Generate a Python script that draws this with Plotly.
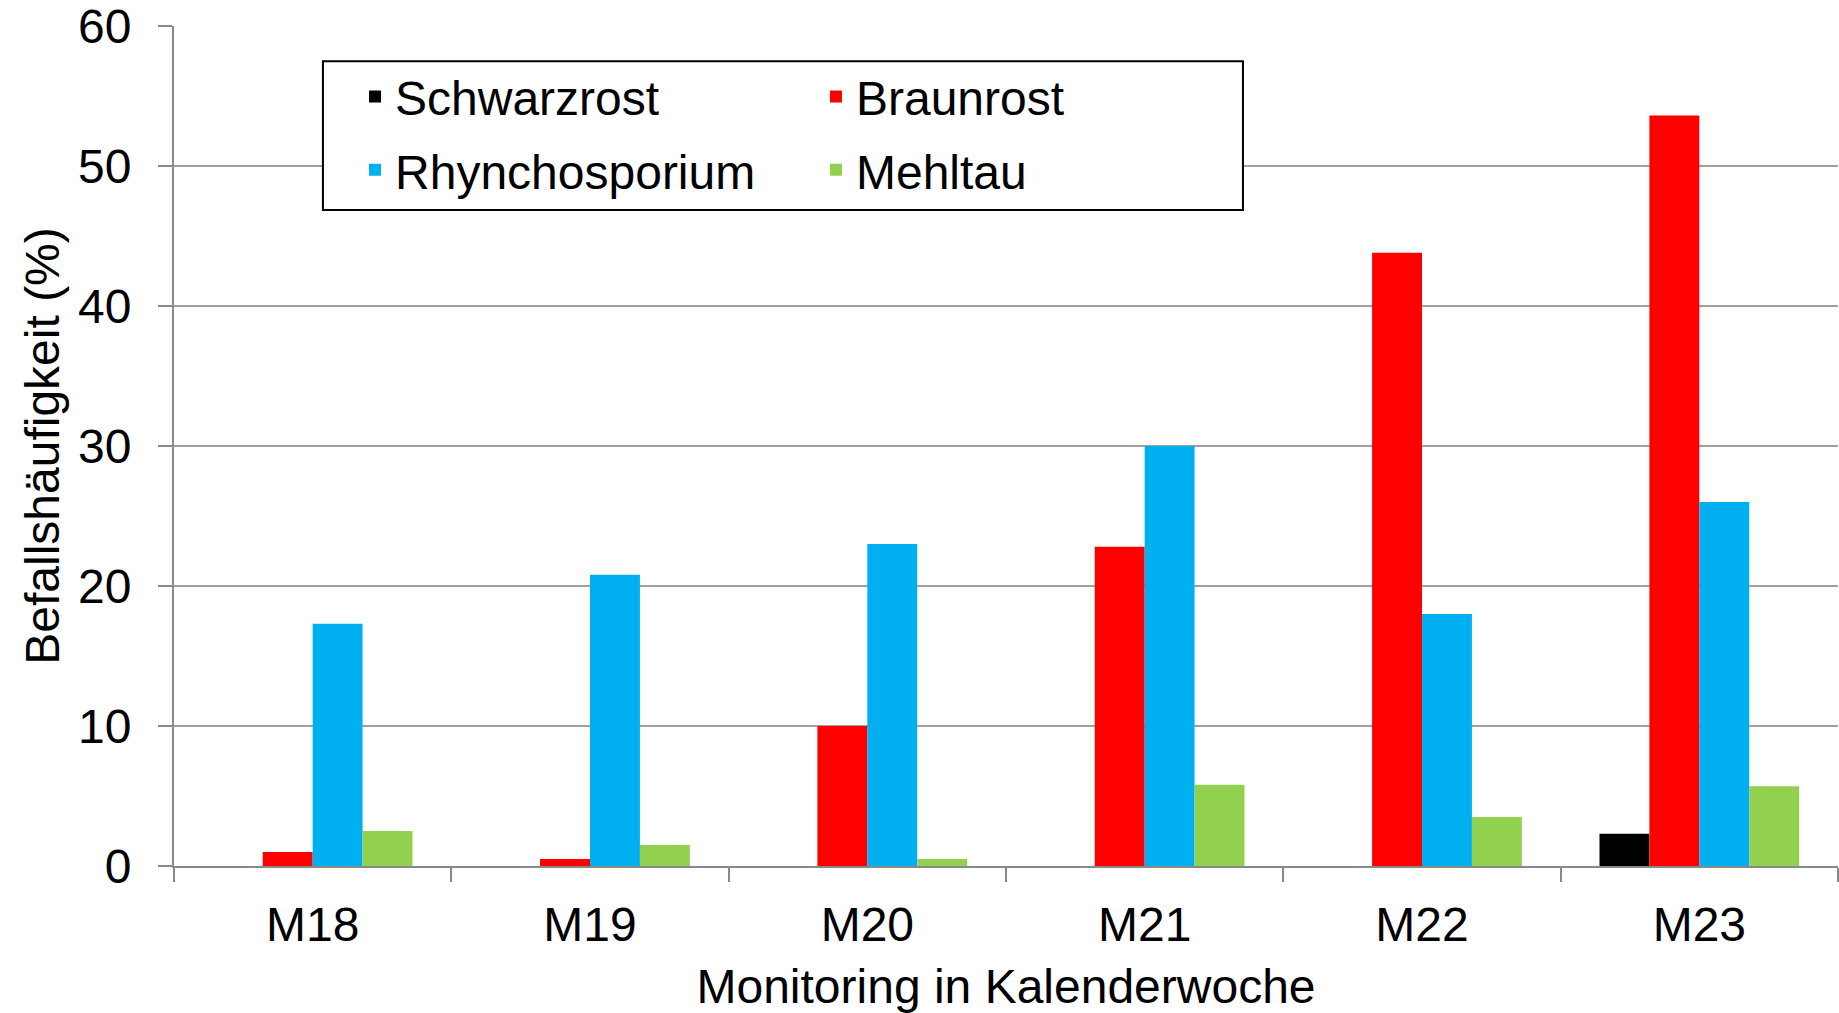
import plotly.graph_objects as go

# Monitoring weeks and infestation frequency (%) per disease
wochen = ["M18", "M19", "M20", "M21", "M22", "M23"]
schwarzrost = [0, 0, 0, 0, 0, 2.3]
braunrost = [1.0, 0.5, 10.0, 22.8, 43.8, 53.6]
rhynchosporium = [17.3, 20.8, 23.0, 30.0, 18.0, 26.0]
mehltau = [2.5, 1.5, 0.5, 5.8, 3.5, 5.7]

y_ticks = [0, 10, 20, 30, 40, 50, 60]

FONT = "Arial, Liberation Sans, sans-serif"

fig = go.Figure()
# left legend column: Schwarzrost / Rhynchosporium, right column: Braunrost / Mehltau
fig.add_trace(go.Bar(x=wochen, y=schwarzrost, name="Schwarzrost", marker_color="#000000",
                     legend="legend", legendgroup="a"))
fig.add_trace(go.Bar(x=wochen, y=braunrost, name="Braunrost", marker_color="#FF0000",
                     legend="legend2", legendgroup="b"))
fig.add_trace(go.Bar(x=wochen, y=rhynchosporium, name="Rhynchosporium", marker_color="#00B0F0",
                     legend="legend", legendgroup="c"))
fig.add_trace(go.Bar(x=wochen, y=mehltau, name="Mehltau", marker_color="#92D050",
                     legend="legend2", legendgroup="d"))

fig.update_traces(marker_line_width=0)

leg = dict(orientation="v", yanchor="top", xanchor="left", y=0.961,
           bgcolor="rgba(0,0,0,0)", borderwidth=0, tracegroupgap=8,
           font=dict(size=48))

fig.update_layout(
    width=1839, height=1013,
    margin=dict(l=174, r=1, t=26, b=147, autoexpand=False),
    paper_bgcolor="white", plot_bgcolor="white",
    barmode="group", bargap=0.28, bargroupgap=0,
    font=dict(family=FONT, size=48, color="black"),
    legend=dict(leg, x=0.1088),
    legend2=dict(leg, x=0.3858),
    shapes=[dict(type="rect", xref="paper", yref="paper",
                 x0=0.0895, x1=0.6424, y0=0.781, y1=0.958,
                 line=dict(color="black", width=2), fillcolor="white", layer="above")],
)

fig.update_xaxes(
    automargin=False,
    showline=True, linecolor="#898989", linewidth=2,
    ticks="outside", tickson="boundaries", ticklen=14, tickcolor="#898989", tickwidth=2,
    ticklabelstandoff=15,
    title=dict(text="Monitoring in Kalenderwoche", standoff=20, font=dict(size=48)),
    tickfont=dict(size=48),
)
fig.update_yaxes(
    automargin=False,
    range=[0, 60], tickvals=y_ticks,
    showline=True, linecolor="#898989", linewidth=2,
    showgrid=True, gridcolor="#A0A0A0", gridwidth=1.5,
    ticks="outside", ticklen=14, tickcolor="#898989", tickwidth=2,
    ticklabelstandoff=17, ticklabeloverflow="allow",
    title=dict(text="Befallshäufigkeit (%)", standoff=3, font=dict(size=48)),
    tickfont=dict(size=48),
    zeroline=False,
)

# drop the default 8px body margin so the figure sits at the window's corner
fig.write_html("out.html", config={"displayModeBar": False},
               post_script="document.body.style.margin='0';")
